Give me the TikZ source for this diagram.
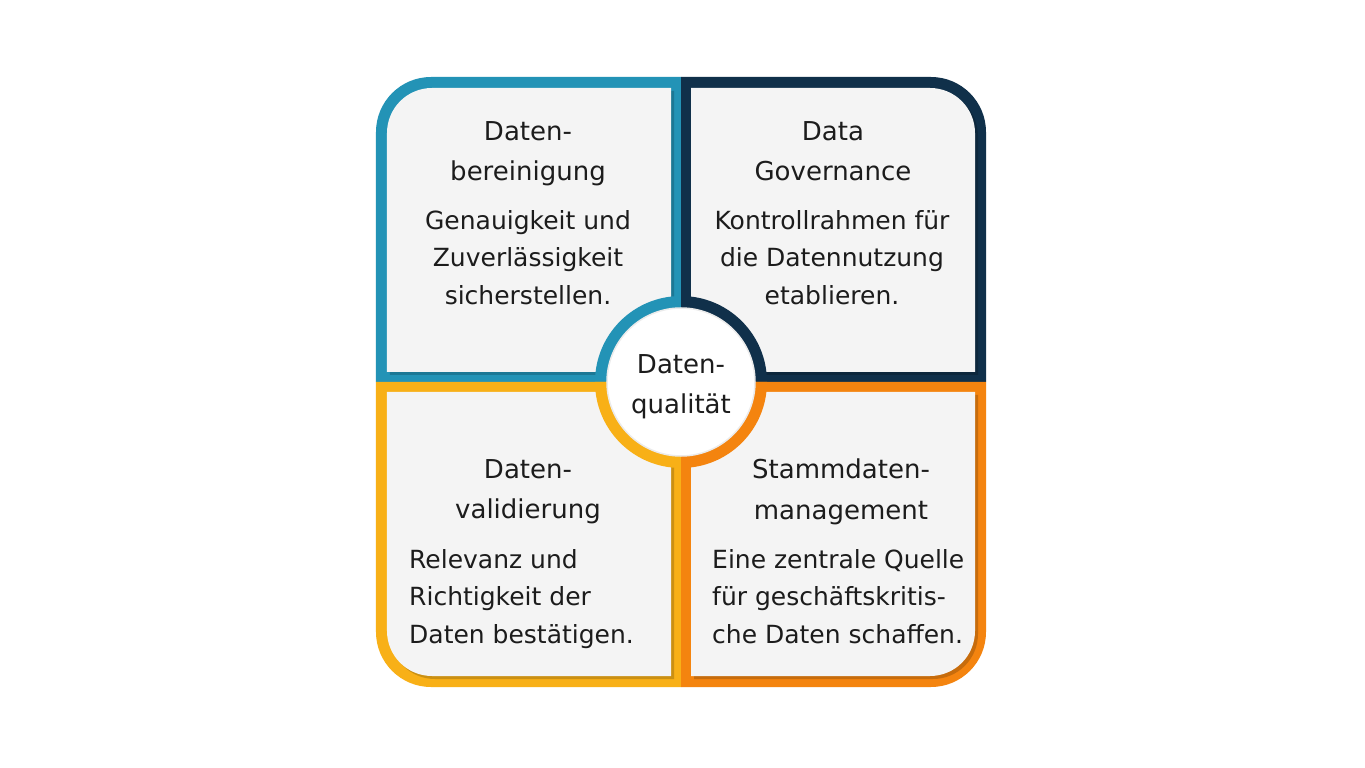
\documentclass[tikz,border=0pt]{standalone}
\usepackage{fontspec}
\setmainfont{DejaVu Sans}
\definecolor{dqteal}{HTML}{2393B6}
\definecolor{dqnavy}{HTML}{10304A}
\definecolor{dqamber}{HTML}{F8B017}
\definecolor{dqorange}{HTML}{F4840F}
\definecolor{dqpanel}{HTML}{F4F4F4}
\definecolor{dqtext}{HTML}{1C1C1C}

\begin{document}
\begin{tikzpicture}[
    x=1pt, y=1pt,
    panel/.style={fill=dqpanel},
    title/.style={anchor=north, align=center, inner sep=0pt, text=dqtext,
      font=\fontsize{26}{40.5}\selectfont},
    body/.style={anchor=north, align=center, inner sep=0pt, text=dqtext,
      font=\fontsize{25}{37.5}\selectfont}
  ]
  \path[use as bounding box] (-681,-386) rectangle (684,382);
  \fill[white] (-681,-386) rectangle (684,382);
  % Quadrants.
  \foreach \sx/\sy/\col in {-1/1/dqteal, 1/1/dqnavy, -1/-1/dqamber, 1/-1/dqorange} {
    \begin{scope}[xscale=\sx, yscale=\sy]
      \fill[\col] (0,0) -- (305,0) -- (305,250) arc[start angle=0, end angle=90, radius=55] -- (0,305) -- cycle;
      \fill[black, opacity=0.18, shift={(3*\sx,-3*\sy)}] (10,10) -- (294,10) -- (294,249) arc[start angle=0, end angle=90, radius=45] -- (10,294) -- cycle;
      \fill[panel] (10,10) -- (294,10) -- (294,249) arc[start angle=0, end angle=90, radius=45] -- (10,294) -- cycle;
      \fill[\col] (0,0) -- (86,0) arc[start angle=0, end angle=90, radius=86] -- cycle;
    \end{scope}
  }
  % Hub.
  \node[circle, fill=white, draw=black!8, line width=1.5pt, minimum size=148pt, inner sep=0pt] (hub) at (0,0) {};
  \node[title] (hubtext) at (0,28) {Daten-\\qualität};
  % Panel texts.
  \node[title] (clean) at (-153,261) {Daten-\\bereinigung};
  \node[body] (cleantext) at (-153,172) {Genauigkeit und\\Zuverlässigkeit\\sicherstellen.};
  \node[title] (gov) at (152,261) {Data\\Governance};
  \node[body] (govtext) at (151,172) {Kontrollrahmen für\\die Datennutzung\\etablieren.};
  \node[title] (valid) at (-153,-77) {Daten-\\validierung};
  \node[body, anchor=north west, align=left] (validtext) at (-272,-167) {Relevanz und\\Richtigkeit der\\Daten bestätigen.};
  \node[title] (master) at (160,-77) {Stammdaten-\\management};
  \node[body, anchor=north west, align=left] (mastertext) at (31,-167) {Eine zentrale Quelle\\für geschäftskritis-\\che Daten schaffen.};
\end{tikzpicture}
\end{document}
